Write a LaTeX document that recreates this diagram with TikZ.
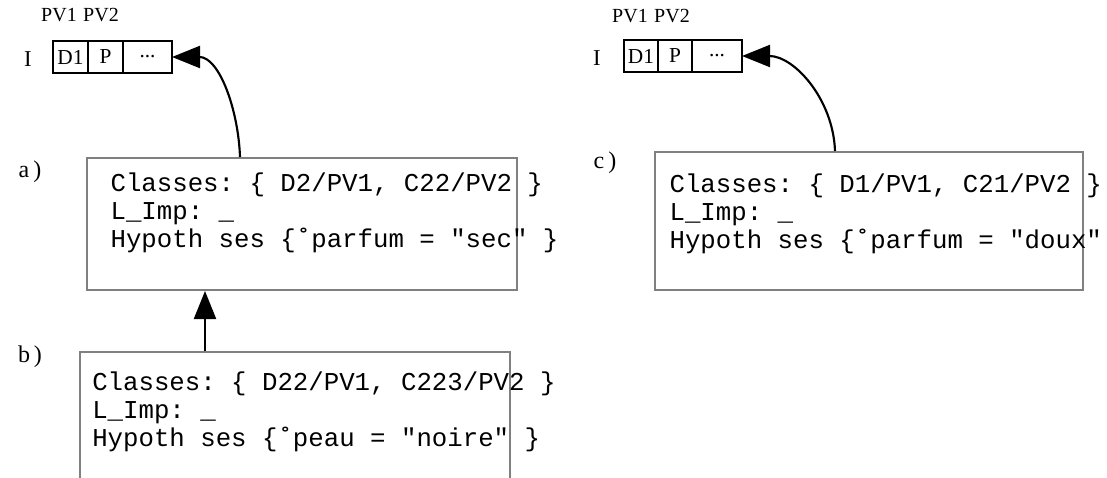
\documentclass[tikz,border=0pt]{standalone}
\usepackage{fontspec}
\setmainfont{Liberation Serif}
\setmonofont{Liberation Mono}
\usetikzlibrary{positioning}
\usetikzlibrary{arrows.meta}
\definecolor{panelgray}{RGB}{128,128,128}

\begin{document}
\begin{tikzpicture}[
    x=0.75pt, y=-0.75pt,
    node distance=0pt,
    cell/.style={rectangle, draw, line width=1.3pt, minimum height=24pt, inner sep=0pt, outer sep=0pt,
                 font=\fontsize{16}{19}\selectfont},
    tag/.style={inner sep=0pt, font=\fontsize{15}{18}\selectfont},
    panel/.style={rectangle, draw=panelgray, line width=1.5pt, minimum width=322pt, inner sep=0pt},
    code/.style={inner sep=0pt, align=left, font=\ttfamily\fontsize{19.3}{21}\selectfont},
    arrow/.style={-{Triangle[length=21pt, width=16.5pt]}, line width=1.6pt}
]
    \useasboundingbox (0,0) rectangle (1107,478);

    % left array
    \node[tag, font=\fontsize{17}{20}\selectfont] (ia) at (28,59) {I};
    \node[cell, minimum width=26.25pt] (d1a) at (70.5,57) {D1};
    \node[cell, minimum width=26.25pt, right=of d1a] (pa) {P};
    \node[cell, minimum width=36.75pt, right=of pa] (dotsa) {...};
    \node[tag] (pv1a) at (59,15) {PV1};
    \node[tag] (pv2a) at (101,15) {PV2};

    % right array
    \node[tag, font=\fontsize{17}{20}\selectfont] (ic) at (597,58) {I};
    \node[cell, minimum width=25.5pt] (d1c) at (641,56) {D1};
    \node[cell, minimum width=25.5pt, right=of d1c] (pc) {P};
    \node[cell, minimum width=37.5pt, right=of pc] (dotsc) {...};
    \node[tag] (pv1c) at (630,16) {PV1};
    \node[tag] (pv2c) at (672,16) {PV2};

    % states
    \node[panel, minimum height=99pt] (boxa) at (302,224) {};
    \node[code, below right=12pt and 18pt of boxa.north west] (txta)
        {Classes: \{ D2/PV1, C22/PV2 \}\\L\_Imp: \_\\Hypoth ses \{˚parfum = "sec" \}};
    \node[tag, font=\fontsize{18}{21}\selectfont] (taga) at (30,172) {a\,)};

    \node[panel, minimum width=322.5pt, minimum height=150pt] (boxb) at (295,452) {};
    \node[code, below right=15.75pt and 9.75pt of boxb.north west] (txtb)
        {Classes: \{ D22/PV1, C223/PV2 \}\\L\_Imp: \_\\Hypoth ses \{˚peau = "noire" \}};
    \node[tag, font=\fontsize{18}{21}\selectfont] (tagb) at (30,357) {b\,)};

    \node[panel, minimum width=321pt, minimum height=103.5pt] (boxc) at (869,221) {};
    \node[code, below right=17pt and 11.5pt of boxc.north west] (txtc)
        {Classes: \{ D1/PV1, C21/PV2 \}\\L\_Imp: \_\\Hypoth ses \{˚parfum = "doux"};
    \node[tag, font=\fontsize{18}{21}\selectfont] (tagc) at (605,163) {c\,)};

    % links
    \draw[arrow] ([xshift=-46.5pt]boxa.north) to[out=92, in=0] (dotsa.east);
    \draw[arrow] ([xshift=-67.5pt]boxb.north) -- ([xshift=-67.5pt]boxb.north |- boxa.south);
    \draw[arrow] ([xshift=-25.5pt]boxc.north) to[out=92, in=0] (dotsc.east);
\end{tikzpicture}
\end{document}
